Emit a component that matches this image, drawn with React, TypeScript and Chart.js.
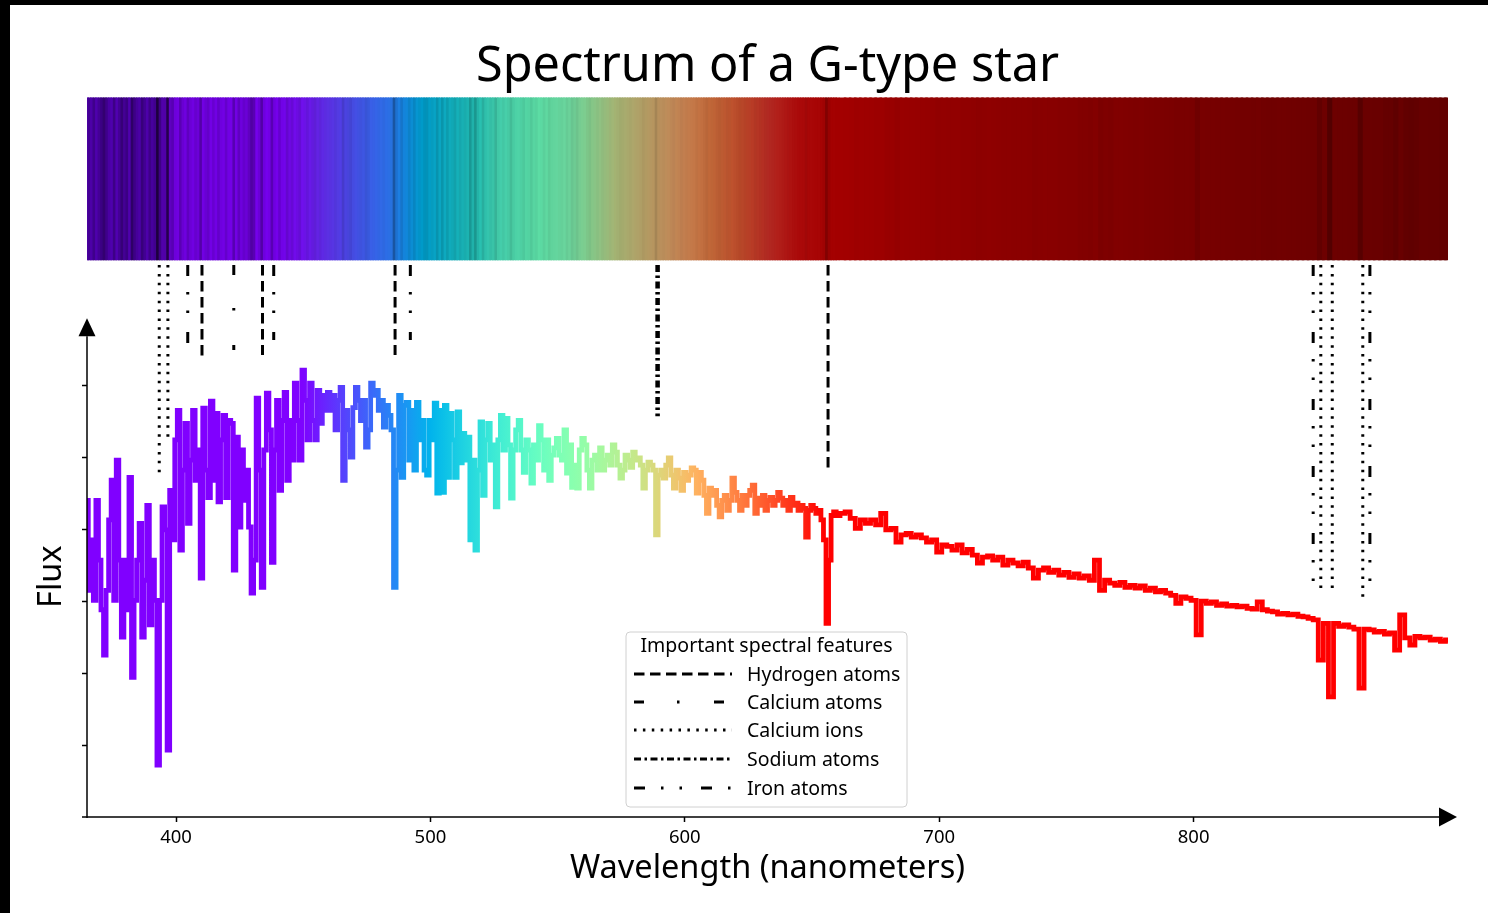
import React, { useEffect, useRef } from 'react';
import { Chart, registerables } from 'chart.js';

Chart.register(...registerables);

const FONT = '"Noto Sans", "Open Sans", sans-serif';

const TITLE = 'Spectrum of a G-type star';
const X_LABEL = 'Wavelength (nanometers)';
const Y_LABEL = 'Flux';
const LEGEND_TITLE = 'Important spectral features';

const X_MIN = 365;
const X_MAX = 900;
const X_TICKS = [400, 500, 600, 700, 800];
const Y_MIN = 0;
const Y_MAX = 10;
const Y_TICKS = [1, 2, 3, 4, 5, 6];
const Y_AXIS_TOP = 6.93;
const BAR_BOTTOM = 7.74;
const BAR_TOP = 10;
const LINE_TOP = 7.67;

// 1 nm bins, 365..660 nm
const FINE_START = 365;
const fluxFine = [
  4.40, 3.15, 3.85, 3.01, 4.40, 3.57, 2.88, 2.25, 3.15, 4.13,
  4.68, 3.01, 4.96, 3.57, 2.50, 3.57, 2.88, 4.72, 1.94, 3.01,
  3.57, 4.08, 2.50, 3.29, 4.33, 2.67, 3.57, 3.01, 0.72, 3.01,
  4.31, 3.99, 0.93, 4.54, 3.85, 5.24, 5.65, 3.71, 4.82, 5.47,
  4.08, 4.96, 5.65, 4.68, 5.10, 3.32, 5.68, 4.82, 4.44, 5.78,
  4.68, 5.61, 4.38, 5.24, 5.58, 4.44, 5.51, 5.47, 3.43, 5.28,
  4.03, 5.10, 4.40, 4.82, 4.03, 3.11, 3.57, 5.82, 4.82, 3.19,
  5.10, 5.89, 5.38, 3.54, 5.10, 5.79, 4.54, 5.51, 5.90, 4.68,
  5.51, 4.96, 6.03, 5.51, 4.96, 6.21, 5.79, 5.24, 6.03, 5.51,
  5.24, 5.93, 5.47, 5.86, 5.65, 5.90, 5.65, 5.86, 5.38, 5.79,
  5.97, 4.68, 5.65, 5.38, 5.00, 5.69, 5.97, 5.79, 5.51, 5.79,
  5.14, 5.38, 6.03, 5.86, 5.93, 5.65, 5.79, 5.42, 5.72, 5.58,
  5.38, 3.19, 4.82, 5.86, 4.72, 5.72, 5.76, 4.96, 5.65, 4.82,
  5.76, 5.24, 5.51, 4.82, 4.75, 5.51, 5.24, 5.75, 4.50, 5.65,
  4.51, 5.72, 4.72, 5.61, 5.24, 4.72, 5.63, 4.92, 5.33, 4.96,
  5.28, 3.85, 4.96, 3.71, 4.82, 5.49, 4.47, 5.24, 5.47, 4.96,
  5.17, 4.31, 5.24, 5.58, 5.10, 5.54, 5.17, 4.43, 5.10, 5.38,
  5.51, 5.10, 4.79, 5.24, 5.10, 4.64, 5.17, 4.96, 5.44, 5.24,
  4.82, 5.24, 4.68, 5.03, 5.13, 5.26, 5.03, 4.96, 5.38, 4.78,
  5.17, 4.58, 4.89, 4.57, 5.10, 5.26, 5.17, 4.82, 4.57, 4.96,
  5.03, 4.82, 5.13, 4.82, 4.96, 5.03, 4.89, 5.17, 5.07, 4.89,
  4.71, 4.82, 5.03, 4.96, 4.86, 5.07, 4.96, 4.99, 4.89, 4.57,
  4.82, 4.93, 4.89, 4.82, 3.92, 4.75, 4.82, 4.71, 4.89, 4.99,
  4.75, 4.57, 4.82, 4.71, 4.54, 4.79, 4.68, 4.75, 4.85, 4.82,
  4.50, 4.79, 4.68, 4.47, 4.22, 4.57, 4.47, 4.54, 4.33, 4.17,
  4.40, 4.47, 4.26, 4.40, 4.71, 4.51, 4.40, 4.26, 4.47, 4.33,
  4.47, 4.54, 4.61, 4.22, 4.43, 4.33, 4.47, 4.26, 4.40, 4.44,
  4.33, 4.40, 4.51, 4.43, 4.33, 4.40, 4.26, 4.44, 4.33, 4.36,
  4.26, 4.33, 4.29, 3.89, 4.26, 4.33, 4.29, 4.22, 4.26, 4.13,
  3.85, 2.69, 3.57, 4.19, 4.24, 4.19,
];

// 2 nm bins, 662..900 nm
const COARSE_START = 662;
const fluxCoarse = [
  4.22, 4.24, 4.15, 4.01, 4.13, 4.08, 4.13, 4.06, 4.22, 3.99,
  4.01, 3.82, 3.92, 3.94, 3.89, 3.92, 3.88, 3.82, 3.85, 3.68,
  3.78, 3.76, 3.71, 3.78, 3.67, 3.72, 3.64, 3.53, 3.61, 3.63,
  3.57, 3.61, 3.50, 3.57, 3.53, 3.49, 3.54, 3.46, 3.32, 3.43,
  3.46, 3.40, 3.43, 3.36, 3.40, 3.33, 3.38, 3.32, 3.35, 3.29,
  3.57, 3.15, 3.29, 3.25, 3.22, 3.26, 3.19, 3.22, 3.18, 3.21,
  3.15, 3.18, 3.13, 3.15, 3.11, 3.08, 2.97, 3.06, 3.04, 3.01,
  2.53, 3.00, 2.97, 2.99, 2.94, 2.96, 2.93, 2.94, 2.92, 2.93,
  2.90, 2.89, 2.99, 2.88, 2.86, 2.85, 2.82, 2.83, 2.81, 2.82,
  2.79, 2.78, 2.76, 2.74, 2.18, 2.69, 1.67, 2.69, 2.65, 2.67,
  2.64, 2.61, 1.79, 2.61, 2.60, 2.57, 2.58, 2.54, 2.56, 2.32,
  2.81, 2.49, 2.39, 2.51, 2.49, 2.50, 2.46, 2.47, 2.44, 2.46,
];

const wlFine = fluxFine.map((_, i) => FINE_START + i);
const wlCoarse = fluxCoarse.map((_, i) => COARSE_START + 2 * i);

// Spectral features: wavelengths and where each marker line ends (flux units)
const hydrogenWl = [410.2, 434.0, 486.1, 656.3];
const hydrogenEnd = [6.38, 6.42, 6.42, 4.79];
const calciumAtomWl = [422.7];
const calciumAtomEnd = [6.49];
const calciumIonWl = [393.4, 396.8, 850.0, 854.5, 866.5];
const calciumIonEnd = [4.78, 5.24, 3.11, 3.11, 2.99];
const sodiumWl = [589.0, 589.6];
const sodiumEnd = [5.57, 5.57];
const ironWl = [404.6, 438.4, 492.1, 847.0, 869.3];
const ironEnd = [6.38, 6.63, 6.63, 3.13, 3.04];

const featureLabels = ['Hydrogen atoms', 'Calcium atoms', 'Calcium ions', 'Sodium atoms', 'Iron atoms'];
const featureDashes = [
  [10.5, 5.5],
  [10, 33, 2.5, 34.5],
  [2.5, 6.4],
  [7, 3.5, 2.5, 3.5],
  [11, 16, 2.5, 16, 2.5, 19],
];

// colour bar base colours (style)
const BAR_STOPS: [number, string][] = [
  [365, '#5000b0'], [392, '#5000b0'], [400, '#7000e0'], [440, '#7600ee'], [450, '#7010ec'],
  [460, '#5c30e4'], [472, '#4252e4'], [484, '#2c72ea'], [490, '#1484dc'], [497, '#009ccc'],
  [508, '#10acbc'], [518, '#22bcb2'], [527, '#42ccaa'], [543, '#5cdca4'], [555, '#6cd49c'],
  [563, '#84cc8c'], [573, '#a4b474'], [585, '#b49c64'], [598, '#c48454'], [610, '#c46a3a'],
  [622, '#bc4a2a'], [633, '#b42a22'], [645, '#ac0a0a'], [660, '#a40000'], [700, '#940000'],
  [760, '#840000'], [820, '#740000'], [900, '#640000'],
];

function hexToRgb(h: string) {
  return [parseInt(h.slice(1, 3), 16), parseInt(h.slice(3, 5), 16), parseInt(h.slice(5, 7), 16)];
}

function barBase(w: number) {
  for (let i = 0; i < BAR_STOPS.length - 1; i++) {
    const [w0, c0] = BAR_STOPS[i];
    const [w1, c1] = BAR_STOPS[i + 1];
    if (w >= w0 && w <= w1) {
      const t = (w - w0) / (w1 - w0);
      const a = hexToRgb(c0);
      const b = hexToRgb(c1);
      return a.map((v, k) => v + (b[k] - v) * t);
    }
  }
  return hexToRgb(BAR_STOPS[BAR_STOPS.length - 1][1]);
}

function rainbow(t: number) {
  const x = Math.min(1, Math.max(0, t));
  const r = Math.min(1, Math.abs(2 * x - 0.5));
  const g = Math.sin(Math.PI * x);
  const b = Math.cos((Math.PI * x) / 2);
  return `rgb(${Math.round(r * 255)},${Math.round(g * 255)},${Math.round(b * 255)})`;
}

function buildBarColors(allWl: number[], allFlux: number[]) {
  return allWl.map((w, i) => {
    let m = 0;
    for (let j = 0; j < allWl.length; j++) {
      if (Math.abs(allWl[j] - w) <= 7) m = Math.max(m, allFlux[j]);
    }
    const ratio = allFlux[i] / m;
    const shade = 1 - 0.8 * Math.pow(1 - ratio, 1.3);
    const c = barBase(w).map((v) => Math.round(v * shade));
    return `rgb(${c[0]},${c[1]},${c[2]})`;
  });
}

function featureData(wls: number[], ends: number[]) {
  const out: { x: number; y: number | null }[] = [];
  wls.forEach((w, i) => {
    out.push({ x: w, y: LINE_TOP });
    out.push({ x: w, y: ends[i] });
    out.push({ x: w, y: null });
  });
  return out;
}

const axesPlugin = {
  id: 'axesAndLegend',
  afterDraw(chart: any) {
    const ctx = chart.ctx;
    const xs = chart.scales.x;
    const ys = chart.scales.y;
    const x0 = xs.getPixelForValue(X_MIN);
    const x1 = xs.getPixelForValue(X_MAX);
    const y0 = ys.getPixelForValue(Y_MIN);
    const yTop = ys.getPixelForValue(Y_AXIS_TOP);
    ctx.save();
    ctx.strokeStyle = '#000';
    ctx.fillStyle = '#000';
    ctx.lineWidth = 1.5;
    ctx.setLineDash([]);
    // x axis
    ctx.beginPath();
    ctx.moveTo(x0 - 5, y0);
    ctx.lineTo(x1 + 9 - 18, y0);
    ctx.stroke();
    ctx.beginPath();
    ctx.moveTo(x1 + 9, y0);
    ctx.lineTo(x1 + 9 - 18, y0 - 9.5);
    ctx.lineTo(x1 + 9 - 18, y0 + 9.5);
    ctx.closePath();
    ctx.fill();
    // y axis
    ctx.beginPath();
    ctx.moveTo(x0, y0 + 1);
    ctx.lineTo(x0, yTop + 18);
    ctx.stroke();
    ctx.beginPath();
    ctx.moveTo(x0, yTop);
    ctx.lineTo(x0 - 8.5, yTop + 18);
    ctx.lineTo(x0 + 8.5, yTop + 18);
    ctx.closePath();
    ctx.fill();

    // title
    ctx.font = `48.6px ${FONT}`;
    ctx.textAlign = 'center';
    ctx.textBaseline = 'middle';
    ctx.fillText(TITLE, (chart.chartArea.left + chart.chartArea.right) / 2, 62);

    // y label
    ctx.save();
    ctx.translate(42, ys.getPixelForValue(3.34));
    ctx.rotate(-Math.PI / 2);
    ctx.font = `32.5px ${FONT}`;
    ctx.textAlign = 'center';
    ctx.textBaseline = 'middle';
    ctx.fillText(Y_LABEL, 0, 0);
    ctx.restore();

    // legend
    const lx = 616;
    const ly = 627;
    const lw = 281;
    const lh = 175;
    const r = 4;
    ctx.beginPath();
    ctx.moveTo(lx + r, ly);
    ctx.lineTo(lx + lw - r, ly);
    ctx.quadraticCurveTo(lx + lw, ly, lx + lw, ly + r);
    ctx.lineTo(lx + lw, ly + lh - r);
    ctx.quadraticCurveTo(lx + lw, ly + lh, lx + lw - r, ly + lh);
    ctx.lineTo(lx + r, ly + lh);
    ctx.quadraticCurveTo(lx, ly + lh, lx, ly + lh - r);
    ctx.lineTo(lx, ly + r);
    ctx.quadraticCurveTo(lx, ly, lx + r, ly);
    ctx.closePath();
    ctx.fillStyle = 'rgba(255,255,255,0.85)';
    ctx.fill();
    ctx.strokeStyle = '#d0d0d0';
    ctx.lineWidth = 1;
    ctx.stroke();

    ctx.fillStyle = '#000';
    ctx.font = `19.5px ${FONT}`;
    ctx.textAlign = 'center';
    ctx.textBaseline = 'middle';
    ctx.fillText(LEGEND_TITLE, lx + lw / 2, ly + 14);
    ctx.textAlign = 'left';
    const rowY = [669, 697, 725, 754, 783];
    featureLabels.forEach((label, i) => {
      const ds = chart.data.datasets[i];
      ctx.save();
      ctx.strokeStyle = ds.borderColor;
      ctx.lineWidth = ds.borderWidth;
      ctx.lineCap = 'butt';
      ctx.setLineDash(ds.borderDash);
      ctx.beginPath();
      ctx.moveTo(624, rowY[i]);
      ctx.lineTo(722, rowY[i]);
      ctx.stroke();
      ctx.restore();
      ctx.fillText(label, 737, rowY[i] + 1);
    });
    ctx.restore();
  },
};

export default function App() {
  const ref = useRef<HTMLCanvasElement | null>(null);

  useEffect(() => {
    document.body.style.margin = '0';
    const canvas = ref.current;
    if (!canvas) return;

    const allWl = [...wlFine, ...wlCoarse];
    const allFlux = [...fluxFine, ...fluxCoarse];
    const colors = buildBarColors(allWl, allFlux);
    const fineColors = colors.slice(0, wlFine.length);
    const coarseColors = colors.slice(wlFine.length);

    const featureSets = [
      [hydrogenWl, hydrogenEnd],
      [calciumAtomWl, calciumAtomEnd],
      [calciumIonWl, calciumIonEnd],
      [sodiumWl, sodiumEnd],
      [ironWl, ironEnd],
    ].map(([w, e], i) => ({
      type: 'line',
      label: featureLabels[i],
      data: featureData(w as number[], e as number[]),
      borderColor: '#000',
      borderWidth: 3,
      borderDash: featureDashes[i],
      borderCapStyle: 'butt',
      pointRadius: 0,
      spanGaps: false,
      tension: 0,
      fill: false,
    }));

    const gradientColor = (c: any) => {
      const chart = c.chart;
      const xs = chart.scales?.x;
      if (!chart.chartArea || !xs) return '#8000ff';
      const a = xs.getPixelForValue(X_MIN);
      const b = xs.getPixelForValue(X_MAX);
      const g = chart.ctx.createLinearGradient(a, 0, b, 0);
      for (let w = 440; w <= 670; w += 5) {
        g.addColorStop((w - X_MIN) / (X_MAX - X_MIN), rainbow((w - 449) / 206));
      }
      return g;
    };

    const chart = new Chart(canvas, {
      type: 'line',
      data: {
        datasets: [
          ...featureSets,
          {
            type: 'line',
            label: 'spectrum',
            data: allWl.map((x, i) => ({ x, y: allFlux[i] })),
            stepped: 'middle',
            borderWidth: 4.8,
            borderColor: gradientColor,
            borderJoinStyle: 'miter',
            pointRadius: 0,
            fill: false,
          },
          {
            type: 'bar',
            label: 'bar-fine',
            data: wlFine.map((x) => ({ x, y: [BAR_BOTTOM, BAR_TOP] })),
            backgroundColor: fineColors,
            borderWidth: 0,
            barThickness: 3.6,
            grouped: false,
          },
          {
            type: 'bar',
            label: 'bar-coarse',
            data: wlCoarse.map((x) => ({ x, y: [BAR_BOTTOM, BAR_TOP] })),
            backgroundColor: coarseColors,
            borderWidth: 0,
            barThickness: 7,
            grouped: false,
          },
        ] as any,
      },
      options: {
        responsive: false,
        animation: false,
        devicePixelRatio: 1,
        events: [],
        layout: { padding: { left: 0, right: 40, top: 92.4, bottom: 0 } },
        plugins: {
          legend: { display: false },
          tooltip: { enabled: false },
          title: { display: false },
        },
        scales: {
          x: {
            type: 'linear',
            min: X_MIN,
            max: X_MAX,
            offset: false,
            border: { display: false },
            grid: {
              display: true,
              drawOnChartArea: false,
              drawTicks: true,
              tickLength: 5,
              tickColor: '#000',
              tickWidth: 1.5,
              offset: false,
            },
            ticks: {
              color: '#000',
              font: { family: FONT, size: 18.5 },
              padding: 5,
              maxRotation: 0,
              autoSkip: false,
              callback: (v: any) => String(v),
            },
            afterBuildTicks: (s: any) => {
              s.ticks = X_TICKS.map((value) => ({ value }));
            },
            title: {
              display: true,
              text: X_LABEL,
              color: '#000',
              font: { family: FONT, size: 32.5, lineHeight: 1.2 },
              padding: { top: 0, bottom: 24.5 },
            },
            afterFit: (s: any) => {
              s.height = 96;
            },
          },
          y: {
            type: 'linear',
            min: Y_MIN,
            max: Y_MAX,
            border: { display: false },
            grid: {
              display: true,
              drawOnChartArea: false,
              drawTicks: true,
              tickLength: 5,
              tickColor: '#000',
              tickWidth: 1.5,
            },
            ticks: { display: false },
            afterBuildTicks: (s: any) => {
              s.ticks = Y_TICKS.map((value) => ({ value }));
            },
            afterFit: (s: any) => {
              s.width = 77;
            },
          },
        },
      } as any,
      plugins: [axesPlugin],
    });

    return () => chart.destroy();
  }, []);

  return (
    <div style={{ position: 'relative', width: 1488, height: 913, background: '#000', overflow: 'hidden' }}>
      <canvas
        ref={ref}
        width={1478}
        height={908}
        style={{ position: 'absolute', left: 10, top: 5, width: 1478, height: 908, background: '#fff' }}
      />
    </div>
  );
}
